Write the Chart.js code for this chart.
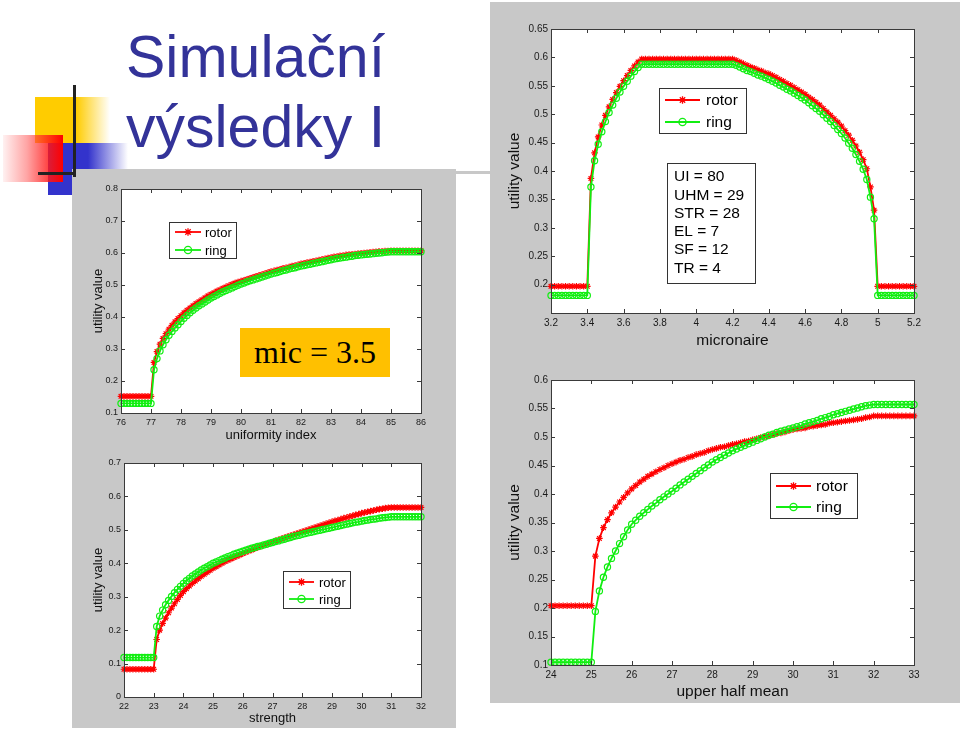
<!DOCTYPE html>
<html lang="cs">
<head>
<meta charset="utf-8">
<title>Simulační výsledky I</title>
<style>
  body{margin:0;background:#fff;width:960px;height:730px;position:relative;overflow:hidden;font-family:"Liberation Sans",Arial,sans-serif;}
  .blk{position:absolute;}
  .panel{position:absolute;background:#c8c8c8;z-index:2;}
  .ttl{position:absolute;left:126px;font-size:59px;line-height:59px;color:#333399;white-space:nowrap;z-index:4;}
  canvas{position:absolute;z-index:3;}
  #mic{position:absolute;left:240px;top:328px;width:150px;height:49px;background:#ffc000;z-index:5;
       display:flex;align-items:center;justify-content:center;font-family:"Liberation Serif","Times New Roman",serif;font-size:32px;color:#000;}
</style>
<script src="https://cdn.jsdelivr.net/npm/chart.js@4.4.0/dist/chart.umd.min.js"></script>
</head>
<body>
  <!-- logo -->
  <div class="blk" style="left:35px;top:97px;width:75px;height:46px;z-index:1;background:linear-gradient(to right,#ffcc00 0%,#ffcc00 55%,rgba(255,204,0,0) 100%);"></div>
  <div class="blk" style="left:48px;top:143px;width:80px;height:52px;z-index:1;background:linear-gradient(to right,#3333cc 0%,#3333cc 50%,rgba(51,51,204,0) 100%);"></div>
  <div class="blk" style="left:3px;top:135px;width:60px;height:47px;z-index:1;background:linear-gradient(to left,#ff0000 0%,rgba(255,90,90,0.55) 60%,rgba(255,120,120,0.1) 100%);"></div>
  <div class="blk" style="left:73px;top:85px;width:3px;height:92px;background:#222;z-index:4;"></div>
  <div class="blk" style="left:38px;top:172px;width:37px;height:3px;background:#222;z-index:4;"></div>

  <div class="ttl" style="top:28px;">Simulační</div>
  <div class="ttl" style="top:98px;">výsledky I</div>

  <div class="panel" style="left:72px;top:169px;width:384px;height:559px;"></div>
  <div class="panel" style="left:456px;top:171px;width:34px;height:3px;"></div>
  <div class="panel" style="left:490px;top:2px;width:470px;height:701px;"></div>

  <canvas id="cUI" width="384" height="281" style="left:72px;top:169px;"></canvas>
  <canvas id="cSTR" width="384" height="278" style="left:72px;top:450px;"></canvas>
  <canvas id="cMIC" width="470" height="356" style="left:490px;top:2px;"></canvas>
  <canvas id="cUHM" width="470" height="345" style="left:490px;top:358px;"></canvas>

  <div id="mic">mic = 3.5</div>

<script>
// uniformity index
const uiX = [76,76.1,76.2,76.3,76.4,76.5,76.6,76.7,76.8,76.9,
  77,77.1,77.2,77.3,77.4,77.5,77.6,77.7,77.8,77.9,
  78,78.1,78.2,78.3,78.4,78.5,78.6,78.7,78.8,78.9,
  79,79.1,79.2,79.3,79.4,79.5,79.6,79.7,79.8,79.9,
  80,80.1,80.2,80.3,80.4,80.5,80.6,80.7,80.8,80.9,
  81,81.1,81.2,81.3,81.4,81.5,81.6,81.7,81.8,81.9,
  82,82.1,82.2,82.3,82.4,82.5,82.6,82.7,82.8,82.9,
  83,83.1,83.2,83.3,83.4,83.5,83.6,83.7,83.8,83.9,
  84,84.1,84.2,84.3,84.4,84.5,84.6,84.7,84.8,84.9,
  85,85.1,85.2,85.3,85.4,85.5,85.6,85.7,85.8,85.9,86];
const uiRotor = [.152,.152,.152,.152,.152,.152,.152,.152,.152,.152,
  .152,.258,.292,.315,.333,.348,.362,.374,.385,.395,
  .404,.413,.421,.428,.435,.442,.448,.454,.460,.466,
  .471,.476,.481,.485,.490,.494,.498,.502,.506,.509,
  .512,.515,.518,.521,.524,.527,.530,.533,.536,.539,
  .542,.544,.547,.549,.552,.554,.556,.559,.561,.563,
  .566,.568,.570,.572,.574,.576,.578,.580,.582,.584,
  .586,.588,.589,.591,.592,.594,.595,.596,.597,.598,
  .599,.600,.601,.602,.603,.604,.605,.605,.606,.606,
  .607,.607,.607,.607,.607,.607,.607,.607,.607,.607,.607];
const uiRing = [.130,.130,.130,.130,.130,.130,.130,.130,.130,.130,
  .130,.235,.270,.294,.313,.329,.343,.355,.366,.376,
  .386,.396,.405,.413,.421,.428,.435,.441,.447,.453,
  .459,.464,.469,.474,.479,.483,.487,.491,.495,.499,
  .503,.506,.510,.513,.516,.519,.522,.525,.528,.531,
  .534,.537,.539,.542,.545,.547,.550,.552,.554,.557,
  .559,.561,.563,.565,.567,.569,.571,.573,.575,.577,
  .579,.581,.583,.584,.586,.587,.589,.590,.592,.593,
  .594,.595,.596,.597,.598,.599,.600,.601,.602,.603,
  .604,.604,.604,.604,.604,.604,.604,.604,.604,.604,.604];

// strength
const strX = [22,22.1,22.2,22.3,22.4,22.5,22.6,22.7,22.8,22.9,
  23,23.1,23.2,23.3,23.4,23.5,23.6,23.7,23.8,23.9,
  24,24.1,24.2,24.3,24.4,24.5,24.6,24.7,24.8,24.9,
  25,25.1,25.2,25.3,25.4,25.5,25.6,25.7,25.8,25.9,
  26,26.1,26.2,26.3,26.4,26.5,26.6,26.7,26.8,26.9,
  27,27.1,27.2,27.3,27.4,27.5,27.6,27.7,27.8,27.9,
  28,28.1,28.2,28.3,28.4,28.5,28.6,28.7,28.8,28.9,
  29,29.1,29.2,29.3,29.4,29.5,29.6,29.7,29.8,29.9,
  30,30.1,30.2,30.3,30.4,30.5,30.6,30.7,30.8,30.9,
  31,31.1,31.2,31.3,31.4,31.5,31.6,31.7,31.8,31.9,32];
const strRotor = [.083,.083,.083,.083,.083,.083,.083,.083,.083,.083,
  .083,.172,.200,.220,.236,.252,.266,.279,.292,.304,
  .315,.324,.332,.340,.347,.354,.361,.367,.373,.379,
  .385,.390,.395,.400,.405,.409,.413,.417,.421,.425,
  .429,.433,.437,.440,.444,.447,.451,.454,.457,.460,
  .463,.467,.470,.473,.476,.479,.482,.485,.488,.491,
  .494,.497,.500,.503,.506,.509,.512,.515,.518,.521,
  .524,.527,.529,.532,.535,.537,.540,.542,.545,.547,
  .550,.552,.554,.556,.558,.560,.562,.563,.565,.566,
  .567,.567,.567,.567,.567,.567,.567,.567,.567,.567,.567];
const strRing = [.118,.118,.118,.118,.118,.118,.118,.118,.118,.118,
  .118,.211,.242,.260,.276,.289,.301,.312,.322,.331,
  .340,.348,.355,.362,.368,.374,.380,.385,.390,.395,
  .400,.404,.408,.412,.416,.420,.423,.427,.430,.433,
  .436,.439,.442,.445,.447,.450,.452,.455,.457,.460,
  .462,.465,.467,.470,.472,.475,.477,.480,.482,.484,
  .487,.489,.491,.493,.495,.497,.499,.501,.503,.505,
  .507,.509,.511,.513,.515,.517,.519,.521,.523,.524,
  .526,.528,.529,.531,.532,.533,.535,.536,.537,.538,
  .539,.539,.539,.539,.539,.539,.539,.539,.539,.539,.539];

// micronaire
const micX = [3.2,3.22,3.24,3.26,3.28,3.3,3.32,3.34,3.36,3.38,
  3.4,3.42,3.44,3.46,3.48,3.5,3.52,3.54,3.56,3.58,
  3.6,3.62,3.64,3.66,3.68,3.7,3.72,3.74,3.76,3.78,
  3.8,3.82,3.84,3.86,3.88,3.9,3.92,3.94,3.96,3.98,
  4,4.02,4.04,4.06,4.08,4.1,4.12,4.14,4.16,4.18,
  4.2,4.22,4.24,4.26,4.28,4.3,4.32,4.34,4.36,4.38,
  4.4,4.42,4.44,4.46,4.48,4.5,4.52,4.54,4.56,4.58,
  4.6,4.62,4.64,4.66,4.68,4.7,4.72,4.74,4.76,4.78,
  4.8,4.82,4.84,4.86,4.88,4.9,4.92,4.94,4.96,4.98,
  5,5.02,5.04,5.06,5.08,5.1,5.12,5.14,5.16,5.18,5.2];
const micRotor = [.197,.197,.197,.197,.197,.197,.197,.197,.197,.197,
  .197,.387,.432,.460,.481,.498,.513,.526,.538,.549,
  .559,.568,.577,.585,.592,.597,.597,.597,.597,.597,
  .597,.597,.597,.597,.597,.597,.597,.597,.597,.597,
  .597,.597,.597,.597,.597,.597,.597,.597,.597,.597,
  .597,.595,.592,.589,.586,.583,.581,.578,.576,.573,
  .571,.568,.565,.561,.558,.554,.551,.547,.543,.539,
  .535,.530,.526,.521,.516,.510,.504,.498,.492,.486,
  .479,.471,.463,.454,.444,.433,.420,.404,.372,.331,
  .197,.197,.197,.197,.197,.197,.197,.197,.197,.197,.197];
const micRing = [.181,.181,.181,.181,.181,.181,.181,.181,.181,.181,
  .181,.372,.418,.447,.469,.487,.503,.516,.528,.539,
  .549,.558,.567,.575,.582,.588,.588,.588,.588,.588,
  .588,.588,.588,.588,.588,.588,.588,.588,.588,.588,
  .588,.588,.588,.588,.588,.588,.588,.588,.588,.588,
  .588,.586,.583,.580,.577,.575,.572,.569,.567,.564,
  .561,.558,.555,.551,.548,.544,.541,.537,.533,.529,
  .525,.520,.515,.510,.505,.499,.493,.487,.480,.473,
  .466,.458,.449,.440,.429,.417,.403,.385,.354,.316,
  .181,.181,.181,.181,.181,.181,.181,.181,.181,.181,.181];
const micNote = ['UI = 80', 'UHM = 29', 'STR = 28', 'EL = 7', 'SF = 12', 'TR = 4'];

// upper half mean
const uhmX = [24,24.1,24.2,24.3,24.4,24.5,24.6,24.7,24.8,24.9,
  25,25.1,25.2,25.3,25.4,25.5,25.6,25.7,25.8,25.9,
  26,26.1,26.2,26.3,26.4,26.5,26.6,26.7,26.8,26.9,
  27,27.1,27.2,27.3,27.4,27.5,27.6,27.7,27.8,27.9,
  28,28.1,28.2,28.3,28.4,28.5,28.6,28.7,28.8,28.9,
  29,29.1,29.2,29.3,29.4,29.5,29.6,29.7,29.8,29.9,
  30,30.1,30.2,30.3,30.4,30.5,30.6,30.7,30.8,30.9,
  31,31.1,31.2,31.3,31.4,31.5,31.6,31.7,31.8,31.9,
  32,32.1,32.2,32.3,32.4,32.5,32.6,32.7,32.8,32.9,33];
const uhmRotor = [.204,.204,.204,.204,.204,.204,.204,.204,.204,.204,
  .204,.291,.322,.341,.355,.367,.377,.386,.394,.402,
  .409,.415,.421,.426,.431,.435,.439,.443,.446,.450,
  .453,.456,.459,.461,.464,.466,.469,.471,.473,.476,
  .478,.480,.482,.483,.485,.487,.488,.490,.492,.493,
  .495,.497,.499,.501,.502,.504,.506,.507,.509,.511,
  .513,.514,.515,.516,.518,.519,.520,.521,.522,.524,
  .525,.526,.527,.528,.529,.530,.531,.532,.534,.535,
  .537,.537,.537,.537,.537,.537,.537,.537,.537,.537,.537];
const uhmRing = [.105,.105,.105,.105,.105,.105,.105,.105,.105,.105,
  .105,.194,.230,.254,.272,.287,.300,.313,.325,.337,
  .347,.354,.361,.367,.373,.379,.384,.390,.395,.400,
  .405,.410,.416,.421,.426,.431,.436,.441,.446,.451,
  .456,.460,.464,.468,.472,.476,.479,.482,.485,.488,
  .491,.494,.497,.500,.503,.505,.508,.510,.512,.514,
  .516,.518,.520,.523,.525,.527,.529,.532,.534,.536,
  .539,.541,.543,.545,.547,.549,.551,.553,.555,.556,
  .557,.557,.557,.557,.557,.557,.557,.557,.557,.557,.557];

const RED = '#ff0000';
const GREEN = '#11ee11';
const FONT = '"Liberation Sans", Arial, sans-serif';

function marker(c, style, x, y, r, color) {
  c.save();
  c.strokeStyle = color;
  c.lineWidth = 1.3;
  c.beginPath();
  if (style === 'star') {
    const d = r * 0.707;
    c.moveTo(x - r, y); c.lineTo(x + r, y);
    c.moveTo(x, y - r); c.lineTo(x, y + r);
    c.moveTo(x - d, y - d); c.lineTo(x + d, y + d);
    c.moveTo(x - d, y + d); c.lineTo(x + d, y - d);
  } else {
    c.arc(x, y, r, 0, Math.PI * 2);
  }
  c.stroke();
  c.restore();
}

// matlab-like frame: white axes, box, inward ticks, legend and note boxes
const frame = {
  id: 'frame',
  beforeDraw(chart) {
    const a = chart.chartArea, c = chart.ctx;
    c.save();
    c.fillStyle = '#fff';
    c.fillRect(a.left, a.top, a.right - a.left, a.bottom - a.top);
    c.restore();
  },
  afterDraw(chart, args, opts) {
    const a = chart.chartArea, c = chart.ctx;
    c.save();
    c.strokeStyle = '#3a3a3a';
    c.lineWidth = 1;
    c.strokeRect(Math.round(a.left) + 0.5, Math.round(a.top) + 0.5,
                 Math.round(a.right - a.left), Math.round(a.bottom - a.top));
    const t = 4;
    c.beginPath();
    chart.scales.x.ticks.forEach(k => {
      const p = Math.round(chart.scales.x.getPixelForValue(k.value)) + 0.5;
      c.moveTo(p, a.bottom); c.lineTo(p, a.bottom - t);
      c.moveTo(p, a.top); c.lineTo(p, a.top + t);
    });
    chart.scales.y.ticks.forEach(k => {
      const p = Math.round(chart.scales.y.getPixelForValue(k.value)) + 0.5;
      c.moveTo(a.left, p); c.lineTo(a.left + t, p);
      c.moveTo(a.right, p); c.lineTo(a.right - t, p);
    });
    c.stroke();

    const boxAt = (b) => {
      const x0 = Math.round(a.left + b.x), y0 = Math.round(a.top + b.y);
      c.fillStyle = '#fff';
      c.fillRect(x0, y0, b.w, b.h);
      c.strokeStyle = '#333';
      c.lineWidth = 1;
      c.strokeRect(x0 + 0.5, y0 + 0.5, b.w, b.h);
      return [x0, y0];
    };

    if (opts.legend) {
      const L = opts.legend;
      const [x0, y0] = boxAt(L);
      c.font = L.size + 'px ' + FONT;
      c.textBaseline = 'middle';
      c.textAlign = 'left';
      chart.data.datasets.forEach((ds, i) => {
        const yy = y0 + L.rows[i];
        c.strokeStyle = ds.borderColor;
        c.lineWidth = ds.borderWidth;
        c.beginPath();
        c.moveTo(x0 + L.line[0], yy);
        c.lineTo(x0 + L.line[1], yy);
        c.stroke();
        marker(c, ds.pointStyle, x0 + (L.line[0] + L.line[1]) / 2, yy, ds.pointRadius + 0.5, ds.borderColor);
        c.fillStyle = '#000';
        c.fillText(ds.label, x0 + L.text, yy + 1);
      });
    }
    if (opts.note) {
      const N = opts.note;
      const [x0, y0] = boxAt(N);
      c.font = N.size + 'px ' + FONT;
      c.textBaseline = 'middle';
      c.textAlign = 'left';
      c.fillStyle = '#000';
      N.lines.forEach((s, i) => c.fillText(s, x0 + N.tx, y0 + N.ty + i * N.step));
    }
    c.restore();
  }
};

const fmt = (v) => String(Number(v.toFixed(3)));

function makeChart(id, xs, rotor, ring, o) {
  const pts = (ys) => xs.map((x, i) => ({x: x, y: ys[i]}));
  return new Chart(document.getElementById(id), {
    type: 'line',
    data: {
      datasets: [
        {label: 'rotor', data: pts(rotor), borderColor: RED, backgroundColor: RED,
         borderWidth: 1.8, pointStyle: 'star', pointRadius: 3.3, pointBorderWidth: 1.2, order: 1, clip: 8},
        {label: 'ring', data: pts(ring), borderColor: GREEN, backgroundColor: 'rgba(0,0,0,0)',
         borderWidth: 1.8, pointStyle: 'circle', pointRadius: 3.1, pointBorderWidth: 1.2, order: 0, clip: 8}
      ]
    },
    options: {
      responsive: false,
      animation: false,
      layout: {padding: {top: o.top, right: o.right, bottom: 0, left: 0}},
      elements: {line: {tension: 0}},
      plugins: {
        legend: {display: false},
        tooltip: {enabled: false},
        frame: {legend: o.legend, note: o.note}
      },
      scales: {
        x: {
          type: 'linear', min: o.x[0], max: o.x[1],
          grid: {display: false, drawTicks: false}, border: {display: false},
          ticks: {stepSize: o.x[2], autoSkip: false, maxRotation: 0, padding: 4, color: '#1a1a1a',
                  font: {family: FONT, size: o.tick}, callback: fmt},
          title: {display: true, text: o.xTitle, color: '#111', padding: {top: 0, bottom: o.xPad},
                  font: {family: FONT, size: o.title}},
          afterFit: (s) => { s.height = o.bottom; }
        },
        y: {
          min: o.y[0], max: o.y[1],
          grid: {display: false, drawTicks: false}, border: {display: false},
          ticks: {stepSize: o.y[2], padding: 3, color: '#1a1a1a', font: {family: FONT, size: o.tick},
                  callback: (v) => (o.hideY !== undefined && Math.abs(v - o.hideY) < 1e-6) ? '' : fmt(v)},
          title: {display: true, text: 'utility value', color: '#111', padding: {top: o.yPad, bottom: 0},
                  font: {family: FONT, size: o.title}},
          afterFit: (s) => { s.width = o.left; }
        }
      }
    },
    plugins: [frame]
  });
}

makeChart('cUI', uiX, uiRotor, uiRing, {
  top: 20, right: 35, left: 49, bottom: 37, tick: 9, title: 13, xPad: 7, yPad: 19,
  x: [76, 86, 1], y: [0.1, 0.8, 0.1], xTitle: 'uniformity index',
  legend: {x: 48, y: 33, w: 67, h: 36, rows: [10, 28], line: [6, 32], text: 36, size: 13}
});
makeChart('cSTR', strX, strRotor, strRing, {
  top: 13, right: 35, left: 52, bottom: 31, tick: 9, title: 13, xPad: 2, yPad: 19,
  x: [22, 32, 1], y: [0, 0.7, 0.1], xTitle: 'strength',
  legend: {x: 159, y: 108, w: 67, h: 37, rows: [11, 28], line: [6, 31], text: 36, size: 13}
});
makeChart('cMIC', micX, micRotor, micRing, {
  top: 27, right: 46, left: 61, bottom: 45, tick: 10, title: 15.5, xPad: 8, yPad: 15,
  x: [3.2, 5.2, 0.2], y: [0.15, 0.65, 0.05], hideY: 0.15, xTitle: 'micronaire',
  legend: {x: 108, y: 59, w: 87, h: 45, rows: [12, 34], line: [6, 41], text: 47, size: 15.5},
  note: {x: 116, y: 134, w: 88, h: 120, lines: micNote, tx: 7, ty: 14, step: 18.3, size: 15.5}
});
makeChart('cUHM', uhmX, uhmRotor, uhmRing, {
  top: 22, right: 46, left: 61, bottom: 38, tick: 10, title: 15.5, xPad: 2, yPad: 15,
  x: [24, 33, 1], y: [0.1, 0.6, 0.05], xTitle: 'upper half mean',
  legend: {x: 219, y: 93, w: 87, h: 45, rows: [13, 34], line: [6, 41], text: 46, size: 15.5}
});
</script>
</body>
</html>
